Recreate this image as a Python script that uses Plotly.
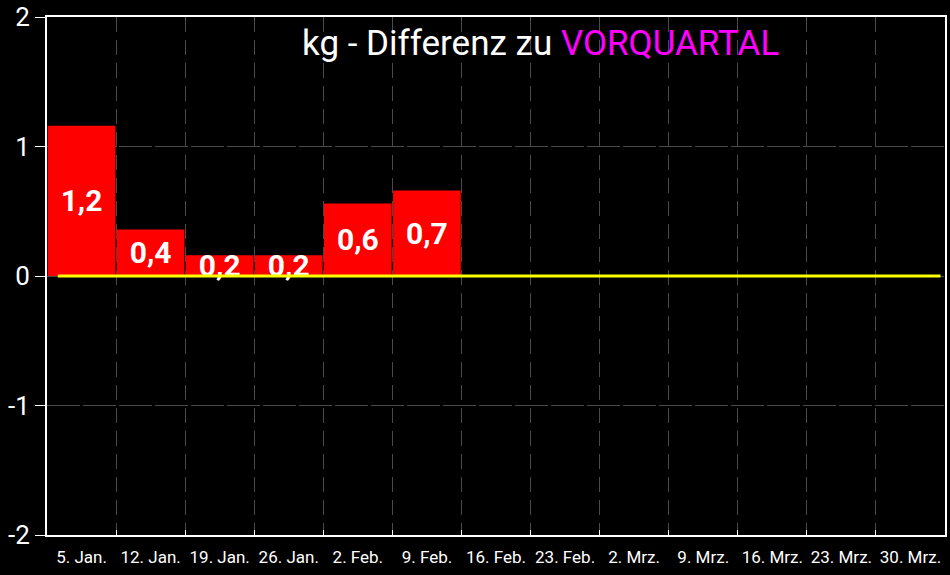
import plotly.graph_objects as go

categories = ["5. Jan.", "12. Jan.", "19. Jan.", "26. Jan.", "2. Feb.", "9. Feb.",
              "16. Feb.", "23. Feb.", "2. Mrz.", "9. Mrz.", "16. Mrz.", "23. Mrz.", "30. Mrz."]
values = [1.16, 0.36, 0.16, 0.16, 0.56, 0.66, None, None, None, None, None, None, None]
labels = ["1,2", "0,4", "0,2", "0,2", "0,6", "0,7", "", "", "", "", "", "", ""]
y_ticks = [-2, -1, 0, 1, 2]

cond = "Roboto, sans-serif"

fig = go.Figure()
fig.add_trace(go.Bar(
    x=categories, y=values, text=labels,
    marker=dict(color="#ff0000", line=dict(width=0)),
    textposition="inside", insidetextanchor="middle",
    textfont=dict(family=cond, size=30, color="white", weight="bold"),
    hoverinfo="skip",
))

fig.add_shape(type="line", xref="paper", yref="y", x0=0.012, x1=0.995, y0=0, y1=0,
              line=dict(color="#ffff00", width=3))

fig.add_annotation(
    xref="paper", yref="paper", x=0.549, y=0.948, yanchor="middle", showarrow=False,
    text="kg - Differenz zu <span style='color:#ff00ff'>VORQUARTAL</span>",
    font=dict(family="Roboto, sans-serif", size=35, color="white"),
)

fig.update_layout(
    width=950, height=575,
    margin=dict(l=47, r=5, t=17, b=40),
    paper_bgcolor="black", plot_bgcolor="black",
    bargap=0.02, showlegend=False,
    uniformtext=dict(minsize=30, mode="show"),
)
fig.update_xaxes(
    type="category", tickson="boundaries", automargin=False, tickangle=0,
    showgrid=True, gridcolor="#4a4a4a", griddash="15px,8px", gridwidth=1,
    showline=True, linecolor="white", linewidth=2, mirror=True,
    ticks="inside", ticklen=5, tickcolor="white",
    tickfont=dict(family=cond, size=17, color="white"),
    ticklabelstandoff=6,
    fixedrange=True,
)
fig.update_yaxes(
    range=[-2, 2], tickvals=y_ticks, ticktext=[str(v) for v in y_ticks],
    automargin=False,
    showgrid=True, gridcolor="#4a4a4a", griddash="33px,3px", gridwidth=1,
    zeroline=False,
    showline=True, linecolor="white", linewidth=2, mirror=True,
    ticks="outside", ticklen=10, tickcolor="white",
    tickfont=dict(family=cond, size=26, color="white"),
)

fig.write_html(
    "out.html",
    config={"displayModeBar": False},
    post_script="document.body.style.margin='0';document.body.style.padding='0';"
                "document.body.style.background='black';",
)
